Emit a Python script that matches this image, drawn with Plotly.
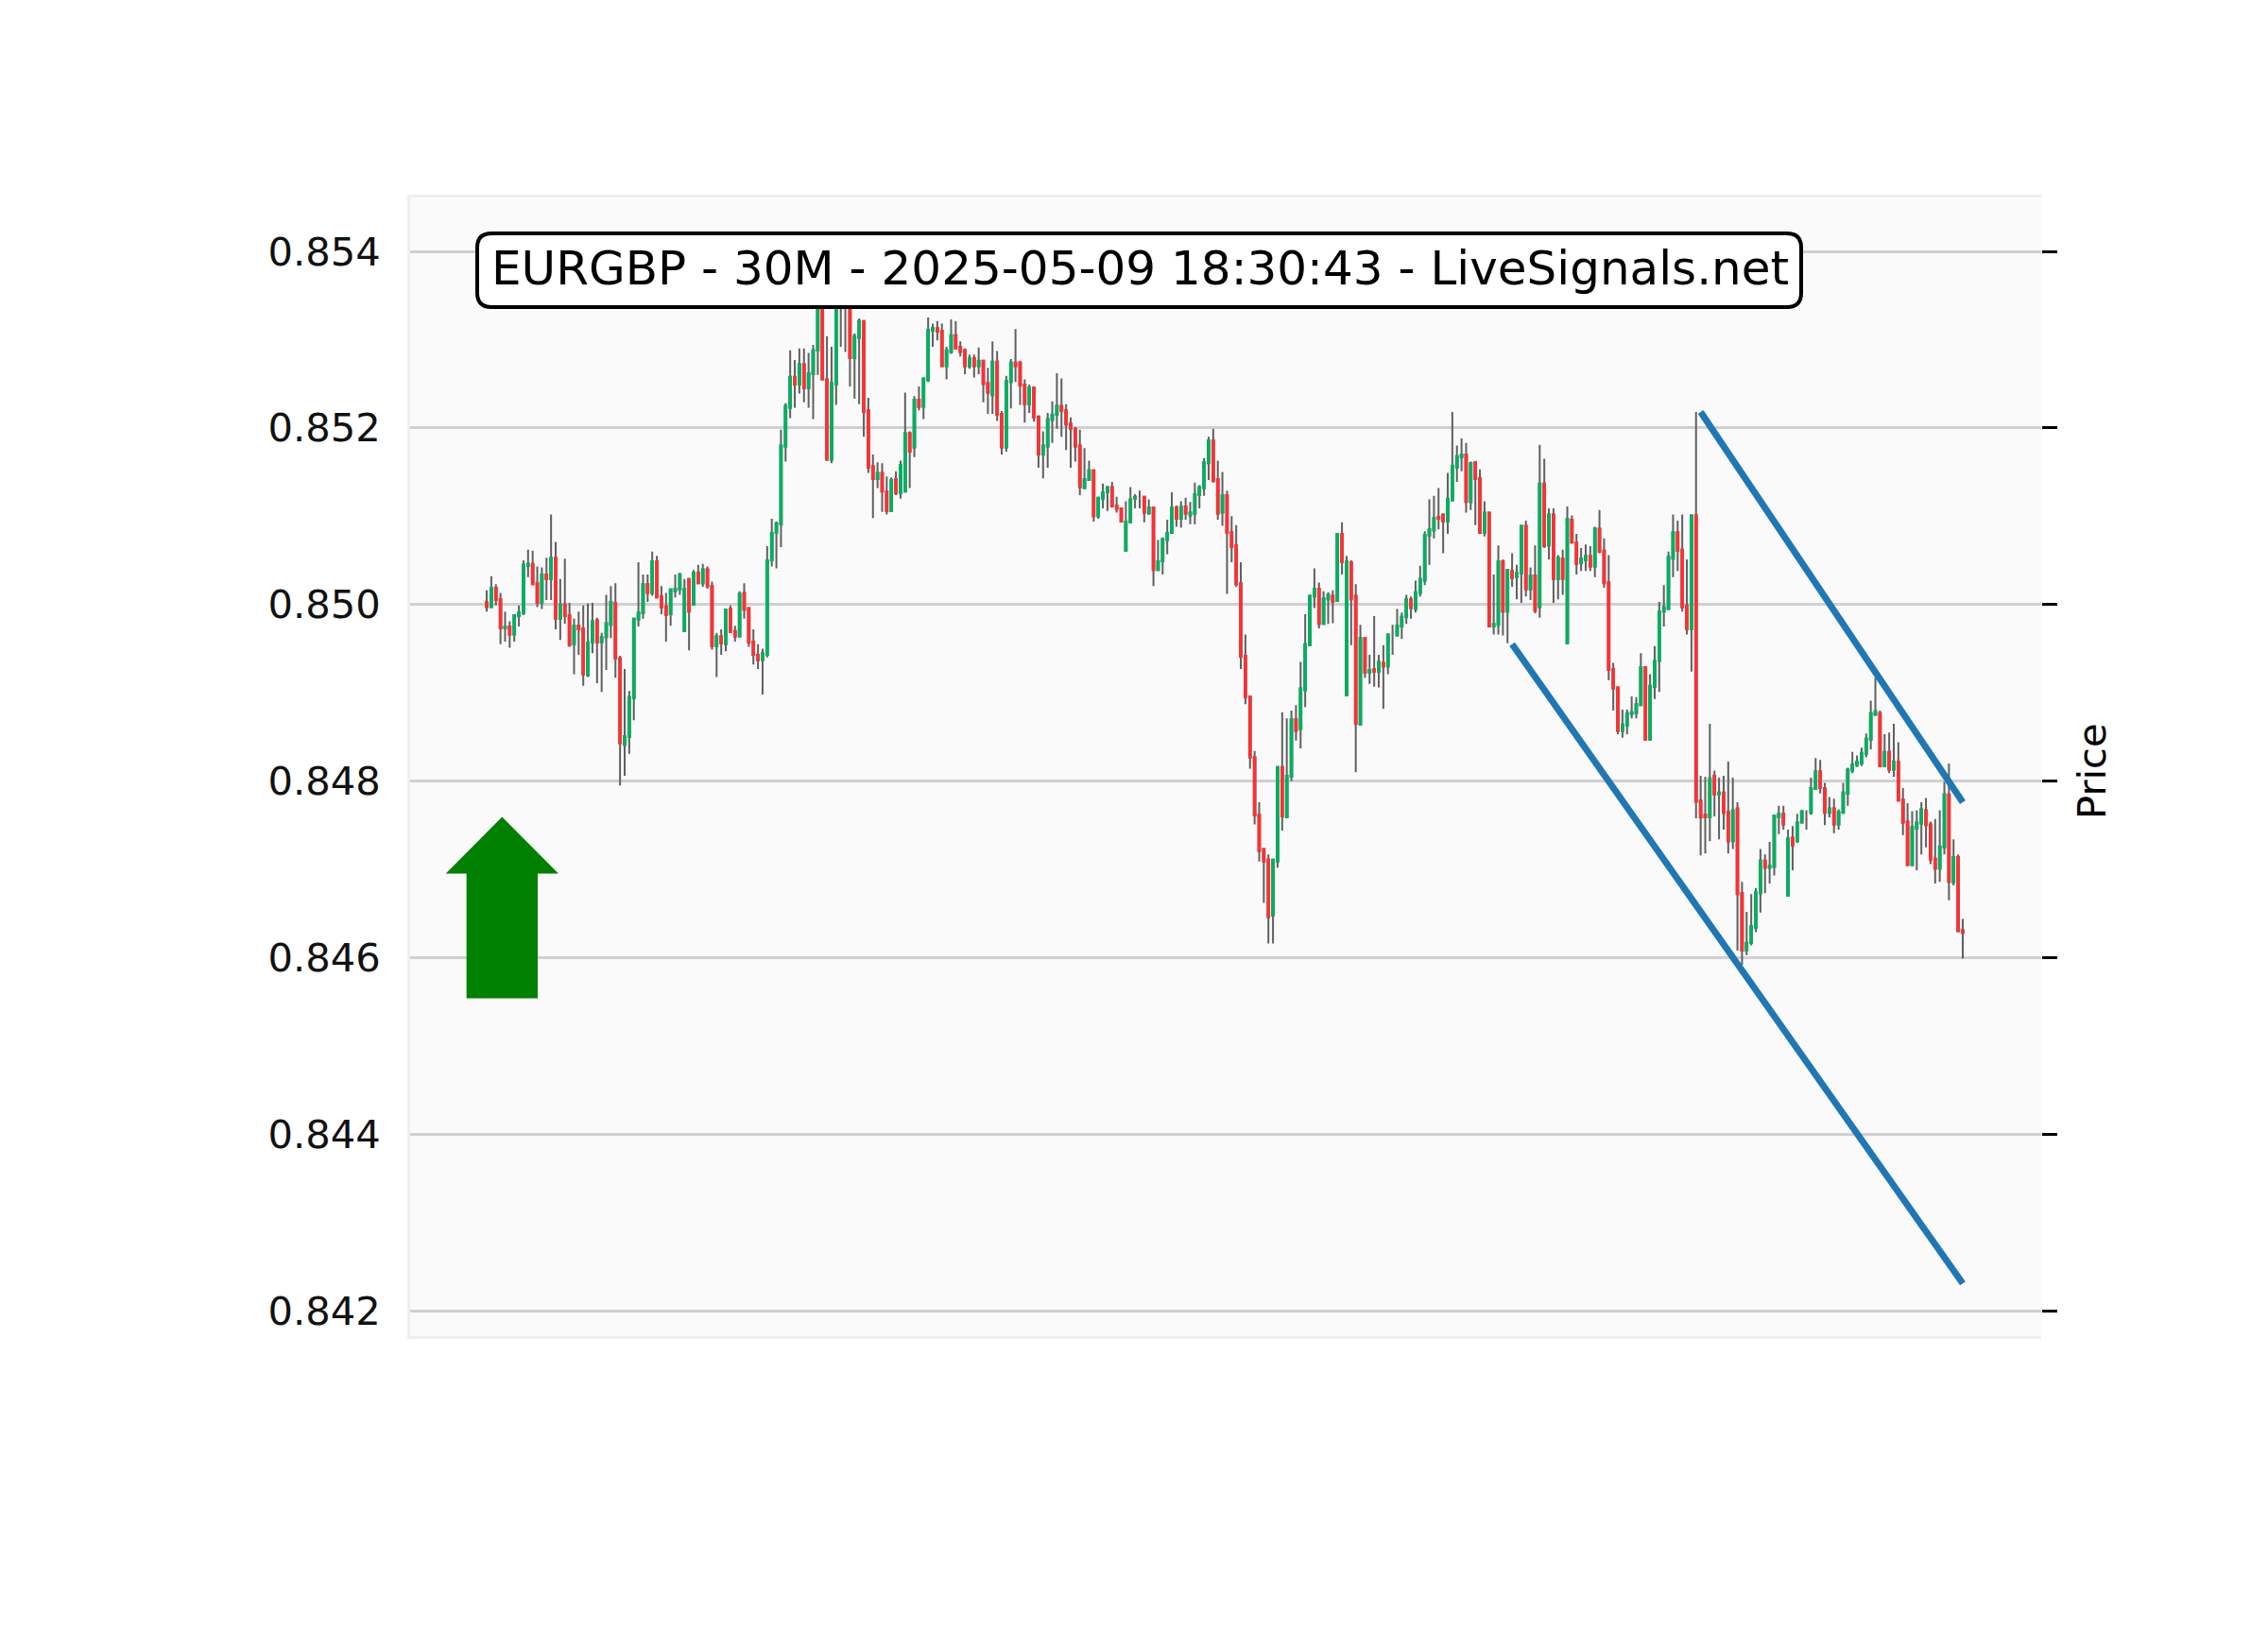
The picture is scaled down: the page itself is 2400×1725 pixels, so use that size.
import plotly.graph_objects as go
import numpy as np

# prices in 1e-5 units
opens = [85003,84997,85019,85006,84973,84975,84966,84987,84990,85044,
85046,85024,85002,85034,85029,85053,84984,85000,84988,84955,
84976,84973,84920,84957,84982,84957,84963,84977,85002,84939,
84841,84850,84894,84983,84990,85023,85013,85049,85009,84998,
84989,85015,85017,84970,85029,85000,85036,85024,85040,85021,
84953,84964,84955,84995,84970,84964,85013,84996,84958,84943,
84937,84943,85050,85081,85091,85179,85223,85258,85249,85272,
85245,85261,85288,85368,85255,85164,85249,85365,85380,85372,
85279,85302,85321,85220,85157,85142,85149,85128,85106,85142,
85126,85128,85194,85178,85232,85224,85254,85310,85313,85310,
85270,85286,85305,85292,85288,85270,85279,85270,85276,85251,
85237,85275,85216,85178,85252,85274,85274,85249,85227,85246,
85213,85170,85179,85209,85215,85225,85220,85205,85199,85180,
85132,85141,85152,85100,85120,85127,85133,85112,85109,85061,
85093,85120,85120,85122,85103,85110,85039,85049,85073,85081,
85110,85097,85111,85101,85103,85124,85132,85160,85186,85142,
85104,85124,85082,85067,85024,84942,84896,84827,84762,84723,
84711,84648,84709,84816,84759,84805,84870,84859,84903,84954,
85009,85018,84978,85006,85010,85004,85080,84897,85048,85010,
84864,84962,84923,84927,84924,84934,84930,84966,84965,84975,
84986,85006,84995,85013,85027,85078,85084,85099,85102,85094,
85118,85155,85167,85170,85116,85161,85143,85081,85104,84975,
84977,85049,84992,85038,85031,85035,85089,85017,85033,84997,
85137,85067,85102,85029,85052,84956,85096,85070,85047,85050,
85055,85043,85086,85061,85025,84927,84906,84857,84863,84876,
84877,84886,84929,84847,84907,84936,84992,84995,85052,85082,
85062,84999,84972,85101,84778,84762,84759,84806,84785,84787,
84765,84732,84769,84673,84608,84617,84634,84673,84710,84702,
84703,84759,84763,84670,84736,84732,84753,84757,84764,84791,
84811,84792,84764,84769,84751,84764,84786,84812,84818,84820,
84831,84847,84875,84877,84817,84833,84813,84822,84779,84754,
84705,84746,84752,84767,84751,84712,84701,84725,84785,84685,
84714,84631]

highs = [85016,85032,85023,85013,84992,84981,84989,84999,85050,85062,
85061,85043,85042,85053,85102,85071,85029,85052,85002,84984,
84992,84999,85001,85002,84985,84968,85011,85021,85024,84942,
84927,84902,84984,85048,85034,85034,85060,85055,85021,85013,
85017,85034,85036,85029,85029,85039,85045,85046,85043,85026,
84968,84972,84994,84999,84976,85015,85024,84997,84972,84955,
84950,85066,85097,85094,85198,85228,85288,85277,85290,85290,
85285,85294,85385,85380,85304,85292,85390,85400,85395,85385,
85307,85324,85322,85234,85170,85161,85160,85145,85144,85151,
85163,85240,85196,85236,85247,85257,85325,85318,85321,85318,
85292,85323,85321,85298,85290,85283,85283,85291,85276,85268,
85298,85287,85219,85259,85278,85312,85276,85255,85249,85246,
85214,85196,85217,85230,85262,85256,85227,85212,85201,85198,
85177,85163,85152,85121,85137,85133,85139,85122,85109,85117,
85133,85125,85129,85122,85119,85110,85073,85076,85096,85127,
85112,85117,85121,85116,85138,85135,85166,85190,85199,85163,
85150,85129,85100,85090,85048,84966,84896,84834,84776,84723,
84717,84711,84817,84878,84871,84880,84886,84935,84989,85010,
85041,85025,85015,85014,85016,85080,85093,85055,85050,85023,
84977,84962,84943,84987,84943,84954,84966,84977,84995,84991,
85011,85009,85027,85044,85083,85119,85123,85132,85102,85149,
85218,85180,85188,85183,85162,85161,85153,85117,85104,85034,
85067,85051,85039,85058,85045,85089,85095,85042,85067,85181,
85165,85109,85109,85056,85062,85111,85101,85080,85064,85068,
85066,85088,85107,85075,85056,84934,84906,84881,84881,84896,
84895,84945,84929,84921,84953,85003,85022,85060,85102,85095,
85102,85051,85101,85218,84806,84805,84865,84812,84804,84806,
84822,84804,84776,84686,84652,84672,84679,84723,84717,84731,
84761,84772,84772,84745,84749,84763,84767,84767,84804,84826,
84824,84798,84782,84780,84768,84798,84815,84833,84829,84838,
84854,84891,84917,84880,84853,84855,84865,84844,84792,84775,
84766,84767,84776,84781,84754,84757,84767,84799,84820,84734,
84717,84644]

lows = [84992,84997,84999,84955,84958,84951,84958,84975,84988,85031,
85023,84997,84995,85005,85005,84972,84960,84978,84952,84921,
84943,84908,84918,84945,84911,84901,84926,84962,84917,84795,
84806,84831,84869,84975,84984,85003,85010,85008,84989,84958,
84976,85008,85011,84969,84948,85000,85024,85020,85018,84949,
84918,84943,84947,84969,84958,84964,84984,84952,84932,84927,
84898,84940,85043,85041,85065,85162,85211,85223,85239,85229,
85223,85210,85260,85255,85164,85160,85226,85292,85286,85247,
85233,85227,85190,85149,85098,85132,85105,85102,85106,85124,
85120,85128,85132,85167,85220,85210,85252,85292,85299,85269,
85255,85284,85289,85281,85261,85267,85257,85261,85229,85216,
85216,85208,85170,85173,85222,85252,85226,85206,85217,85207,
85155,85143,85155,85183,85199,85190,85175,85155,85162,85124,
85132,85141,85094,85097,85109,85106,85111,85104,85093,85061,
85093,85109,85109,85093,85103,85021,85039,85034,85057,85081,
85088,85087,85096,85091,85091,85109,85123,85141,85138,85096,
85089,85012,85048,85020,84927,84887,84814,84751,84709,84662,
84616,84616,84702,84744,84759,84800,84846,84837,84884,84954,
84996,84973,84978,84978,84979,85004,85034,84897,84954,84810,
84864,84917,84910,84907,84906,84882,84921,84943,84965,84961,
84978,84984,84991,85009,85022,85045,85075,85085,85058,85080,
85118,85139,85151,85104,85107,85090,85080,85077,84975,84966,
84966,84965,84956,85020,85006,85002,85009,85005,84990,84985,
85064,85051,85002,85006,85011,84956,85070,85034,85038,85038,
85038,85031,85058,85019,84914,84880,84853,84849,84853,84871,
84871,84886,84847,84846,84893,84901,84975,84995,85031,85038,
84992,84966,84924,84758,84716,84718,84732,84760,84734,84745,
84718,84723,84608,84592,84603,84614,84629,84651,84673,84684,
84693,84740,84745,84670,84699,84730,84753,84745,84762,84790,
84786,84750,84759,84741,84745,84764,84772,84809,84816,84817,
84827,84836,84875,84816,84817,84809,84805,84778,84739,84705,
84705,84699,84717,84725,84706,84684,84686,84717,84665,84682,
84630,84599]

closes = [84997,85019,85005,84973,84975,84966,84988,84991,85045,85046,
85023,85002,85034,85029,85053,84984,85000,84987,84954,84976,
84972,84921,84957,84981,84957,84963,84979,85003,84939,84843,
84851,84895,84984,84991,85023,85013,85049,85008,84997,84988,
85017,85018,85034,85018,84992,85036,85024,85040,85021,84953,
84964,84956,84994,84969,84964,85012,84994,84957,84943,84937,
84945,85050,85081,85092,85180,85225,85258,85249,85272,85245,
85262,85288,85368,85255,85164,85251,85365,85380,85372,85279,
85304,85321,85218,85155,85142,85149,85128,85106,85141,85126,
85158,85194,85173,85232,85224,85256,85311,85313,85309,85270,
85288,85305,85290,85286,85270,85279,85270,85276,85250,85240,
85275,85215,85178,85253,85274,85270,85248,85227,85246,85212,
85170,85180,85210,85215,85225,85219,85204,85199,85179,85133,
85142,85152,85100,85121,85127,85133,85111,85108,85094,85094,
85119,85122,85120,85104,85110,85039,85049,85074,85081,85110,
85097,85111,85103,85104,85125,85133,85161,85186,85140,85103,
85124,85081,85065,85023,84941,84895,84827,84761,84721,84709,
84646,84711,84816,84760,84806,84870,84857,84905,84955,85010,
85018,84978,85007,85011,85003,85080,85048,85049,85006,84865,
84962,84923,84926,84924,84935,84930,84966,84966,84976,84986,
85006,84996,85014,85029,85079,85085,85098,85097,85094,85120,
85157,85168,85170,85116,85160,85142,85081,85104,84975,84978,
85049,84992,85039,85030,85036,85089,85017,85033,84993,85137,
85066,85102,85029,85053,85029,85097,85070,85046,85052,85055,
85043,85086,85060,85024,84926,84905,84857,84864,84877,84878,
84887,84929,84847,84908,84936,84992,84997,85054,85082,85061,
84997,84972,85101,84777,84759,84759,84803,84785,84787,84764,
84732,84767,84672,84608,84617,84636,84674,84710,84702,84704,
84761,84763,84751,84735,84727,84753,84766,84757,84792,84811,
84792,84764,84769,84751,84765,84787,84813,84819,84822,84832,
84848,84877,84879,84817,84833,84813,84822,84778,84753,84705,
84748,84753,84768,84750,84711,84701,84726,84785,84686,84714,
84630,84628]

y_ticks = [0.842, 0.844, 0.846, 0.848, 0.850, 0.852, 0.854]
title_text = "EURGBP - 30M - 2025-05-09 18:30:43 - LiveSignals.net"
y_title = "Price"
upper_line_x = [264, 321]
upper_line_y = [0.85218, 0.84776]
lower_line_x = [223, 321]
lower_line_y = [0.84955, 0.84231]

UP, DOWN, WICK = "#00b060", "#fe3032", "#606060"
FONT = "DejaVu Sans"

o = np.array(opens) / 1e5
h = np.array(highs) / 1e5
l = np.array(lows) / 1e5
c = np.array(closes) / 1e5
x = list(range(len(o)))

# plot rectangle in page pixels
L, R, T, B = 434, 2160, 209, 1414
X_RANGE = [-16.65, 338.06]
Y_RANGE = [0.841714, 0.85461]

def px(v):
    return (v - L) / (R - L)
def py(v):
    return (B - v) / (B - T)

fig = go.Figure()
# wicks
fig.add_trace(go.Candlestick(
    x=x, open=o, high=h, low=l, close=c, showlegend=False, hoverinfo="skip",
    increasing=dict(line=dict(color=WICK, width=2), fillcolor=WICK),
    decreasing=dict(line=dict(color=WICK, width=2), fillcolor=WICK),
    whiskerwidth=0))
# bodies
fig.add_trace(go.Candlestick(
    x=x, open=o, high=np.maximum(o, c), low=np.minimum(o, c), close=c,
    showlegend=False, hoverinfo="skip",
    increasing=dict(line=dict(color=UP, width=2), fillcolor=UP),
    decreasing=dict(line=dict(color=DOWN, width=2), fillcolor=DOWN),
    whiskerwidth=0))
for lx, ly in ((upper_line_x, upper_line_y), (lower_line_x, lower_line_y)):
    fig.add_trace(go.Scatter(x=lx, y=ly, mode="lines", yaxis="y2", showlegend=False,
                             hoverinfo="skip", line=dict(color="#1f77b4", width=7)))

# rounded label box
bl, br, bt, bb, rad = 505, 1906, 247, 325, 15
box_path = (
    f"M {px(bl+rad)} {py(bt)} L {px(br-rad)} {py(bt)} Q {px(br)} {py(bt)} {px(br)} {py(bt+rad)} "
    f"L {px(br)} {py(bb-rad)} Q {px(br)} {py(bb)} {px(br-rad)} {py(bb)} "
    f"L {px(bl+rad)} {py(bb)} Q {px(bl)} {py(bb)} {px(bl)} {py(bb-rad)} "
    f"L {px(bl)} {py(bt+rad)} Q {px(bl)} {py(bt)} {px(bl+rad)} {py(bt)} Z"
)
# entry arrow in data units
ax, head_hw, shaft_hw = 3.35, 12.26, 7.74
tip, neck, tail = 0.847594, 0.846952, 0.845539
arrow_path = (
    f"M {ax} {tip} L {ax+head_hw} {neck} L {ax+shaft_hw} {neck} L {ax+shaft_hw} {tail} "
    f"L {ax-shaft_hw} {tail} L {ax-shaft_hw} {neck} L {ax-head_hw} {neck} Z"
)
fig.update_layout(
    width=2400, height=1725,
    margin=dict(l=L, r=2400 - R, t=T, b=1725 - B, autoexpand=False),
    paper_bgcolor="white", plot_bgcolor="#fafafa",
    font=dict(family=FONT, size=41.67, color="black"),
    showlegend=False,
    boxmode="overlay",
    boxgap=0.52,
    xaxis=dict(range=X_RANGE, rangeslider=dict(visible=False), showgrid=False, zeroline=False,
               showticklabels=False, ticks="", showline=True, mirror=True,
               linecolor="#eeeeee", linewidth=3),
    yaxis=dict(range=Y_RANGE, tickvals=y_ticks, tickformat=".3f", showgrid=True,
               gridcolor="#d0d0d0", gridwidth=3, zeroline=False, ticks="outside", ticklen=20,
               tickcolor="rgba(0,0,0,0)", tickwidth=1, showline=True, linecolor="#eeeeee", linewidth=3,
               tickfont=dict(family=FONT, size=41.67, color="#111111")),
    yaxis2=dict(range=Y_RANGE, overlaying="y", side="right", tickvals=y_ticks, showgrid=False,
                zeroline=False, ticks="outside", ticklen=16, tickwidth=3, tickcolor="black",
                showticklabels=False, showline=False),
    shapes=[
        dict(type="path", xref="paper", yref="paper", path=box_path, fillcolor="white",
             line=dict(color="black", width=4), layer="above"),
        dict(type="path", xref="x", yref="y", path=arrow_path, fillcolor="#008000",
             line=dict(width=0), layer="above"),
    ],
    annotations=[
        dict(xref="paper", yref="paper", x=px(1206.5), y=py(284), text=title_text,
             showarrow=False, xanchor="center", yanchor="middle",
             font=dict(family=FONT, size=50, color="black")),
        dict(xref="paper", yref="paper", x=px(2213), y=py(816), text=y_title, textangle=-90,
             showarrow=False, xanchor="center", yanchor="middle",
             font=dict(family=FONT, size=41.67, color="black")),
    ],
)
fig.write_html("out.html", config={"displayModeBar": False},
               post_script="document.body.style.margin='0';")
